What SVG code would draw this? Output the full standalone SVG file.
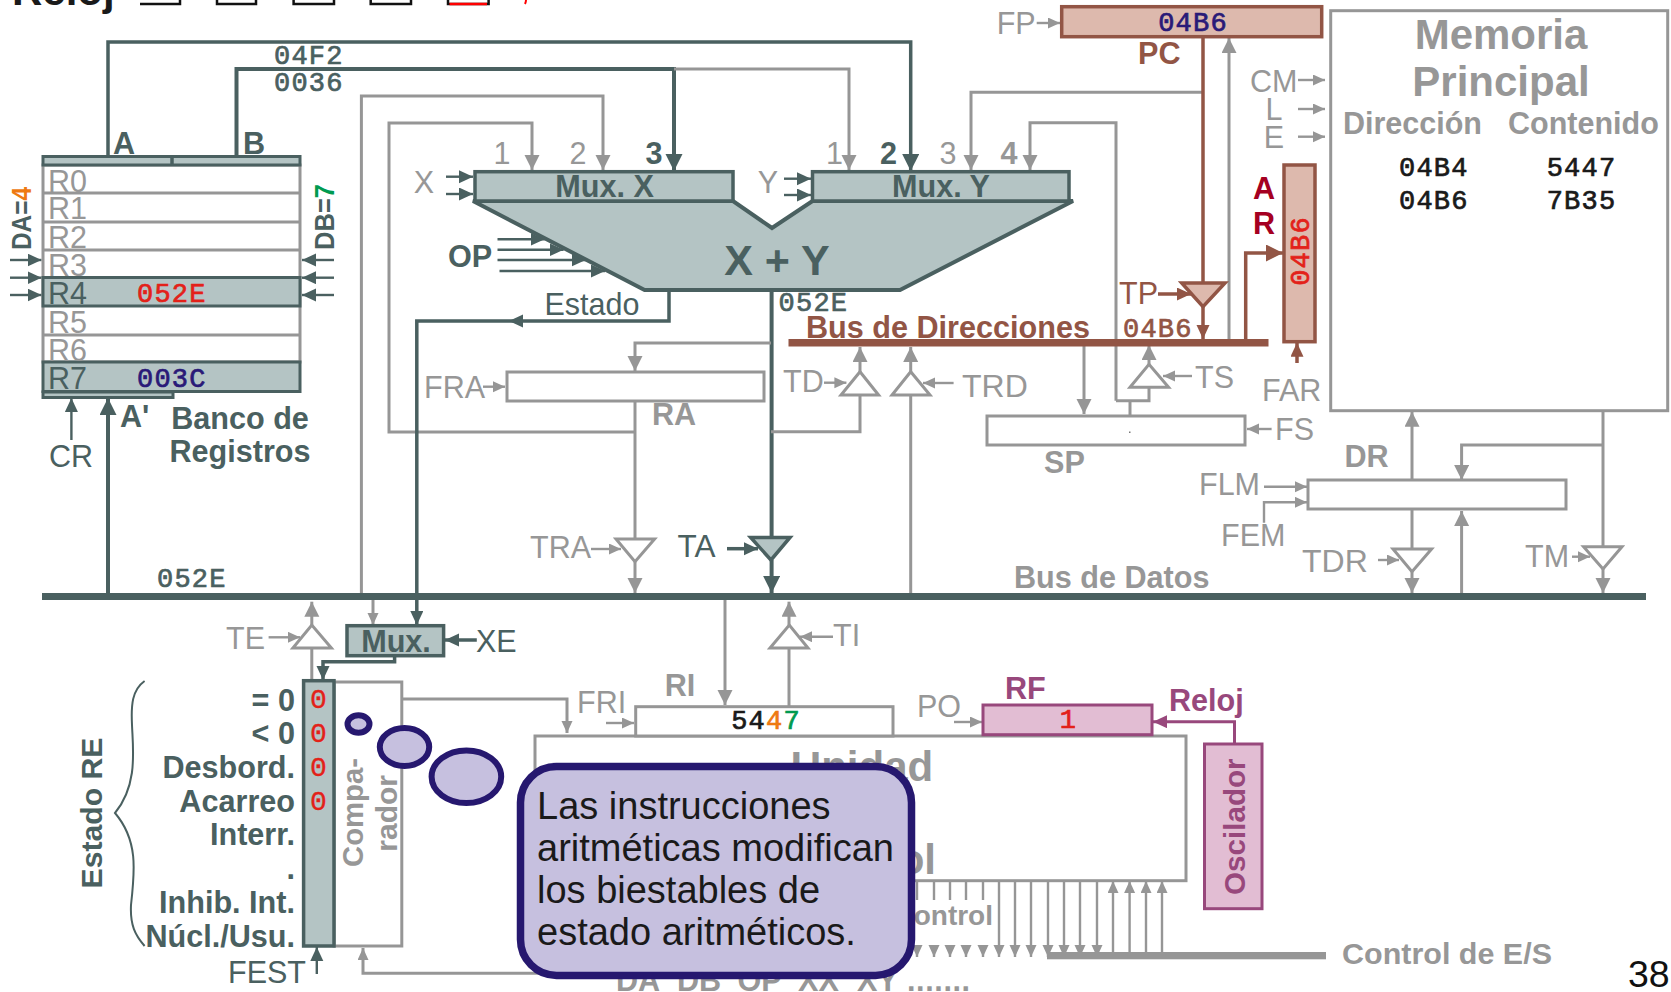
<svg xmlns="http://www.w3.org/2000/svg" width="1671" height="992" viewBox="0 0 1671 992">
<style>
text{font-family:"Liberation Sans",Arial,sans-serif;font-size:30.5px}
.b{font-weight:bold;font-size:30.6px}
.m{font-family:"Liberation Mono","Courier New",monospace;font-weight:normal;font-size:27px;letter-spacing:1.2px;stroke-width:.7px}
.m.d{stroke:#4a6060}.m.r{stroke:#e32119}.m.bl{stroke:#2a1a78}.m.k{stroke:#1a1a1a}.m.br{stroke:#925545}
.g{fill:#979797}.d{fill:#4a6060}.br{fill:#925545}.p{fill:#98487c}.r{fill:#e32119}.bl{fill:#2a1a78}.k{fill:#1a1a1a}
.e{text-anchor:end}.c{text-anchor:middle}
.line,.lined,.lineb,.linep{fill:none}
.line{stroke:#969696;stroke-width:3}
.lined{stroke:#4a6060;stroke-width:3.5}
.lineb{stroke:#925545;stroke-width:3.5}
.linep{stroke:#98487c;stroke-width:3}
.thin{stroke-width:2.4}
.thick{stroke-width:4}
.box{fill:#fff;stroke:#969696;stroke-width:3}
.tbox{fill:#b4c4c4;stroke:#4a6060;stroke-width:3}
.bbox{fill:#ddb9ad;stroke:#925545;stroke-width:3.5}
.pbox{fill:#e2bdd3;stroke:#98487c;stroke-width:3}
.tri{fill:#fff;stroke:#969696;stroke-width:3;stroke-linejoin:miter}
.bub{fill:#c6c0df;stroke:#26186f;stroke-width:6}
</style>
<defs>
<marker id="gL" markerUnits="userSpaceOnUse" markerWidth="16" markerHeight="16" refX="15" refY="7.5" orient="auto"><path d="M0 0L15 7.5L0 15z" fill="#969696"/></marker>
<marker id="gM" markerUnits="userSpaceOnUse" markerWidth="13" markerHeight="12" refX="12" refY="5.5" orient="auto"><path d="M0 0L12 5.5L0 11z" fill="#969696"/></marker>
<marker id="dL" markerUnits="userSpaceOnUse" markerWidth="18" markerHeight="18" refX="17" refY="8.5" orient="auto"><path d="M0 0L17 8.5L0 17z" fill="#4a6060"/></marker>
<marker id="dM" markerUnits="userSpaceOnUse" markerWidth="15" markerHeight="14" refX="14" refY="6.5" orient="auto"><path d="M0 0L14 6.5L0 13z" fill="#4a6060"/></marker>
<marker id="bL" markerUnits="userSpaceOnUse" markerWidth="18" markerHeight="18" refX="17" refY="8.5" orient="auto"><path d="M0 0L17 8.5L0 17z" fill="#925545"/></marker>
<marker id="bM" markerUnits="userSpaceOnUse" markerWidth="15" markerHeight="14" refX="14" refY="6.5" orient="auto"><path d="M0 0L14 6.5L0 13z" fill="#925545"/></marker>
<marker id="pM" markerUnits="userSpaceOnUse" markerWidth="15" markerHeight="14" refX="14" refY="6.5" orient="auto"><path d="M0 0L14 6.5L0 13z" fill="#98487c"/></marker>
</defs>
<rect width="1671" height="992" fill="#fff"/>

<g id="connectors">
<path class="lined" d="M108 157V42H910.7V171" style="marker-end:url(#dL)"/>
<path class="lined thick" d="M236.5 157V69H674V171" style="marker-end:url(#dL)"/>
<path class="line" d="M674 69H849V170" style="marker-end:url(#gL)"/>
<path class="line" d="M361.4 594V96H603V170" style="marker-end:url(#gL)"/>
<path class="line" d="M635 432H389V123H532V170" style="marker-end:url(#gL)"/>
<path class="line" d="M1203 92.3H971V170" style="marker-end:url(#gL)"/>
<path class="line" d="M1116 400.7V122.7H1030V170" style="marker-end:url(#gL)"/>
<path class="line" d="M1149 387V400.7H1116"/>
<path class="line" d="M1130 400.7V416"/>
<path class="lined thin" d="M446 176.7H473" style="marker-end:url(#dM)"/>
<path class="lined thin" d="M446 194H473" style="marker-end:url(#dM)"/>
<path class="lined thin" d="M784 178.7H811" style="marker-end:url(#dM)"/>
<path class="lined thin" d="M784 195H811" style="marker-end:url(#dM)"/>
<path class="lined thin" d="M497.5 239.3H544.6" style="marker-end:url(#dM)"/>
<path class="lined thin" d="M497.5 249.7H563.6" style="marker-end:url(#dM)"/>
<path class="lined thin" d="M497.5 260H585.7" style="marker-end:url(#dM)"/>
<path class="lined thin" d="M499.5 271H605" style="marker-end:url(#dM)"/>
<path class="lined thin" d="M10 260H41.5" style="marker-end:url(#dM)"/>
<path class="lined thin" d="M10 277.7H41.5" style="marker-end:url(#dM)"/>
<path class="lined thin" d="M10 295H41.5" style="marker-end:url(#dM)"/>
<path class="lined thin" d="M334 260H302" style="marker-end:url(#dM)"/>
<path class="lined thin" d="M334 277.7H302" style="marker-end:url(#dM)"/>
<path class="lined thin" d="M334 295H302" style="marker-end:url(#dM)"/>
<path class="lined thin" d="M71.4 440V398" style="marker-end:url(#dM)"/>
<path class="lined thick" d="M108 594V398" style="marker-end:url(#dL)"/>
<path class="lined" d="M669 290V321H509" style="marker-end:url(#dM)"/>
<path class="lined" d="M509 321H416.8V625" style="marker-end:url(#dM)"/>
<path class="lined thick" d="M771.6 290V538"/>
<path class="line" d="M771 343H635V371" style="marker-end:url(#gL)"/>
<path class="line" d="M771 431.7H860V395"/>
<path class="line" d="M860 372V347" style="marker-end:url(#gL)"/>
<path class="line" d="M910.7 594V395"/>
<path class="line" d="M910.7 372V347" style="marker-end:url(#gL)"/>
<path class="line thin" d="M953.6 383H923" style="marker-end:url(#gM)"/>
<path class="line thin" d="M824 382.7H846.4" style="marker-end:url(#gM)"/>
<path class="line thin" d="M483 386.7H505" style="marker-end:url(#gM)"/>
<path class="line" d="M635 401V539"/>
<path class="line" d="M635 562V593" style="marker-end:url(#gL)"/>
<path class="line thin" d="M591 549H621" style="marker-end:url(#gM)"/>
<path class="lined" d="M727 548.7H758" style="marker-end:url(#dM)"/>
<path class="lined thick" d="M771.6 560V593" style="marker-end:url(#dL)"/>
<path class="line" d="M311.8 680V648"/>
<path class="line" d="M311.8 625V601.7" style="marker-end:url(#gL)"/>
<path class="line thin" d="M268.6 637.3H300" style="marker-end:url(#gM)"/>
<path class="line" d="M373 600V625" style="marker-end:url(#gM)"/>
<path class="lined" d="M476.8 640H445" style="marker-end:url(#dM)"/>
<path class="lined" d="M394.6 656V661.7H323V680" style="marker-end:url(#dM)"/>
<path class="lined thin" d="M316.8 974V947" style="marker-end:url(#dM)"/>
<path class="line" d="M401.8 699H567V733" style="marker-end:url(#gM)"/>
<path class="line" d="M560 973.3H363V948" style="marker-end:url(#gM)"/>
<path class="line" d="M725 600V705" style="marker-end:url(#gL)"/>
<path class="line" d="M789 706V648"/>
<path class="line" d="M789 625V601.7" style="marker-end:url(#gL)"/>
<path class="line thin" d="M833 636.7H800" style="marker-end:url(#gM)"/>
<path class="line thin" d="M606 723H634" style="marker-end:url(#gM)"/>
<path class="line thin" d="M954 722H982" style="marker-end:url(#gM)"/>
<path class="linep" d="M1234.5 744V721.7H1153" style="marker-end:url(#pM)"/>
<path class="lineb" d="M1203 37V284"/>
<path class="lineb" d="M1203 306V339" style="marker-end:url(#bM)"/>
<path class="lineb" d="M1158 294H1191" style="marker-end:url(#bM)"/>
<path class="line" d="M1229 342V38" style="marker-end:url(#gL)"/>
<path class="lineb" d="M1245.7 342V253H1283" style="marker-end:url(#bL)"/>
<path class="lineb" d="M1297 363V342.7" style="marker-end:url(#bM)"/>
<path class="line thin" d="M1036.7 23H1060" style="marker-end:url(#gM)"/>
<path class="line thin" d="M1298 80H1325" style="marker-end:url(#gM)"/>
<path class="line thin" d="M1298 109H1325" style="marker-end:url(#gM)"/>
<path class="line thin" d="M1298 136.7H1325" style="marker-end:url(#gM)"/>
<path class="line" d="M1084 346V414" style="marker-end:url(#gL)"/>
<path class="line" d="M1149 365V345" style="marker-end:url(#gL)"/>
<path class="line thin" d="M1192 376H1163" style="marker-end:url(#gM)"/>
<path class="line thin" d="M1271.6 429H1247" style="marker-end:url(#gM)"/>
<path class="line" d="M1412 480V411.7" style="marker-end:url(#gL)"/>
<path class="line" d="M1412 509V549"/>
<path class="line" d="M1412 571V593" style="marker-end:url(#gL)"/>
<path class="line" d="M1603 411V547"/>
<path class="line" d="M1603 569V593" style="marker-end:url(#gL)"/>
<path class="line" d="M1603 445H1461.6V480" style="marker-end:url(#gL)"/>
<path class="line" d="M1461.6 594V511" style="marker-end:url(#gL)"/>
<path class="line thin" d="M1264 486.7H1307" style="marker-end:url(#gM)"/>
<path class="line thin" d="M1264 522.7V502.3H1307" style="marker-end:url(#gM)"/>
<path class="line thin" d="M1378 560H1399" style="marker-end:url(#gM)"/>
<path class="line thin" d="M1572 556.7H1590" style="marker-end:url(#gM)"/>
<path class="line thin" d="M917 881V900"/><path class="line thin" d="M934 881V900"/><path class="line thin" d="M950 881V900"/><path class="line thin" d="M966 881V900"/><path class="line thin" d="M983 881V900"/>
<path class="line thin" d="M917 945V957" style="marker-end:url(#gM)"/><path class="line thin" d="M934 945V957" style="marker-end:url(#gM)"/><path class="line thin" d="M950 945V957" style="marker-end:url(#gM)"/><path class="line thin" d="M966 945V957" style="marker-end:url(#gM)"/><path class="line thin" d="M983 945V957" style="marker-end:url(#gM)"/>
<path class="line thin" d="M999 881V957" style="marker-end:url(#gM)"/><path class="line thin" d="M1015 881V957" style="marker-end:url(#gM)"/><path class="line thin" d="M1031 881V957" style="marker-end:url(#gM)"/><path class="line thin" d="M1048 881V957" style="marker-end:url(#gM)"/><path class="line thin" d="M1064 881V957" style="marker-end:url(#gM)"/><path class="line thin" d="M1080 881V957" style="marker-end:url(#gM)"/><path class="line thin" d="M1097 881V957" style="marker-end:url(#gM)"/>
<path class="line thin" d="M1113 952V881" style="marker-end:url(#gM)"/><path class="line thin" d="M1129.6 952V881" style="marker-end:url(#gM)"/><path class="line thin" d="M1146 952V881" style="marker-end:url(#gM)"/><path class="line thin" d="M1162 952V881" style="marker-end:url(#gM)"/>
</g>

<g id="reloj-top">
<text class="b" x="12" y="5" style="font-size:42px;fill:#1a1a1a">Reloj</text>
<path d="M140 4H180V0M217 0V4H256V0M293.6 0V4H334V0M370.7 0V4H411V0M448 0V4H488.6V0" fill="none" stroke="#111" stroke-width="2.5"/>
<path d="M449.5 4H487" fill="none" stroke="#f00" stroke-width="2.5"/>
<path d="M526 0C526 2 525.5 3 525 4" fill="none" stroke="#f00" stroke-width="2"/>
</g>

<g id="banco-registros">
<rect class="box" x="43" y="165" width="257" height="197"/>
<path class="line" d="M43 193H300M43 222H300M43 250H300M43 335H300"/>
<rect class="tbox" x="43" y="156.5" width="257" height="8.5"/>
<path class="lined" d="M172 156V165"/>
<rect class="tbox" x="43" y="277.5" width="257" height="28.5"/>
<rect class="tbox" x="43" y="362" width="257" height="29.5"/>
<rect class="tbox" x="43" y="392" width="130" height="5.5"/>
<text class="g" x="48" y="191.7">R0</text><text class="g" x="48" y="219.3">R1</text><text class="g" x="48" y="248">R2</text><text class="g" x="48" y="276">R3</text>
<text class="d" x="48" y="303.7">R4</text><text class="g" x="48" y="332.7">R5</text><text class="g" x="48" y="361">R6</text><text class="d" x="48" y="389.3">R7</text>
<text class="m r" x="137" y="301.7">052E</text><text class="m bl" x="137" y="386.7">003C</text>
<text class="b d" x="113" y="153.7">A</text><text class="b d" x="243" y="153.7">B</text>
<text class="b d" x="120" y="427">A'</text>
<text class="b d c" x="240" y="428.7">Banco de</text>
<text class="b d c" x="240" y="462">Registros</text>
<text class="d c" x="71" y="467">CR</text>
<text class="b d" transform="translate(31 250) rotate(-90)" textLength="63" lengthAdjust="spacingAndGlyphs" style="font-size:27px">DA=<tspan fill="#ee7a12">4</tspan></text>
<text class="b d" transform="translate(334 250) rotate(-90)" textLength="66" lengthAdjust="spacingAndGlyphs" style="font-size:27px">DB=<tspan fill="#009a50">7</tspan></text>
<text class="m d" x="274" y="64">04F2</text><text class="m d" x="274" y="90.7">0036</text>
</g>

<g id="alu">
<polygon class="tbox" style="stroke-width:4" points="473,201 644.6,290 900,290 1073,201 812.5,201 772,228 733,201"/>
<rect class="tbox" style="stroke-width:3.5" x="475" y="171.7" width="258" height="29.3"/>
<rect class="tbox" style="stroke-width:3.5" x="812.5" y="171.7" width="256.5" height="29.3"/>
<text class="b d c" x="604.6" y="197.2">Mux. X</text>
<text class="b d c" x="941" y="197.2">Mux. Y</text>
<text class="b d c" x="777" y="275" style="font-size:43px">X + Y</text>
<text class="b d" x="448" y="266.7">OP</text>
<text class="d c" x="592" y="315">Estado</text>
<text class="m d" x="778.6" y="310.7">052E</text>
<text class="g c" x="424" y="193">X</text><text class="g c" x="768" y="193">Y</text>
<text class="g c" x="502" y="164">1</text><text class="g c" x="578" y="164">2</text><text class="b d c" x="654" y="164">3</text>
<text class="g c" x="834.6" y="164">1</text><text class="b d c" x="888.6" y="164">2</text><text class="g c" x="948" y="164">3</text><text class="b g c" x="1009" y="164">4</text>
</g>

<g id="ra">
<rect class="box" x="507" y="372" width="257" height="29"/>
<text class="g" x="424" y="397.7">FRA</text><text class="b g c" x="674" y="425">RA</text>
</g>
<g id="tra"><polygon class="tri" points="616,539 654.6,539 635,561.7"/><text class="g" x="530" y="558">TRA</text></g>
<g id="ta"><polygon class="tbox" style="stroke-width:3.5" points="750.7,537.5 790,537.5 771,560"/><text class="d" x="677.5" y="557" style="font-size:31.5px">TA</text></g>
<g id="td"><polygon class="tri" points="841,395 878.6,395 860,371.7"/><text class="g" x="783" y="392">TD</text></g>
<g id="trd"><polygon class="tri" points="892,395 930,395 910.7,371.7"/><text class="g" x="962" y="397" style="font-size:32px">TRD</text></g>

<g id="pc">
<rect class="bbox" x="1061.7" y="6.7" width="260" height="30"/>
<text class="m bl c" x="1193" y="30.7">04B6</text>
<text class="g" x="996.7" y="34">FP</text>
<text class="b br" x="1138" y="63.7">PC</text>
</g>
<g id="tp"><polygon class="bbox" points="1181.7,283 1225,283 1203,306.7"/><text class="br" x="1119" y="304.3">TP</text></g>
<g id="bus-direcciones">
<rect x="788.5" y="339" width="480" height="7.5" fill="#925545"/>
<text class="b br" x="806" y="338">Bus de Direcciones</text>
<text class="m br" x="1123" y="337">04B6</text>
</g>
<g id="ar">
<rect class="bbox" x="1284" y="165" width="31" height="176.7"/>
<text class="m r c" transform="translate(1309 251) rotate(-90)">04B6</text>
<text class="b c" x="1264" y="199" fill="#a50021">A</text><text class="b c" x="1264" y="234" fill="#a50021">R</text>
<text class="g" x="1262" y="401">FAR</text>
</g>

<g id="memoria">
<rect class="box" x="1330.7" y="10.7" width="337" height="400"/>
<text class="b g c" x="1501" y="49" style="font-size:42px">Memoria</text>
<text class="b g c" x="1501" y="96" style="font-size:42px">Principal</text>
<text class="b g" x="1343" y="134" style="font-size:30.5px">Dirección</text>
<text class="b g" x="1508" y="134" style="font-size:30.5px">Contenido</text>
<text class="m k" x="1399" y="176">04B4</text><text class="m k" x="1546.7" y="176">5447</text>
<text class="m k" x="1399" y="209.3">04B6</text><text class="m k" x="1546.7" y="209.3">7B35</text>
<text class="g" x="1250" y="91.7">CM</text><text class="g c" x="1274" y="120">L</text><text class="g c" x="1274" y="147.7">E</text>
</g>

<g id="sp">
<rect class="box" x="987" y="416" width="258" height="29"/>
<rect x="1129" y="431.5" width="1.5" height="1.5" fill="#777"/>
<text class="b g" x="1044" y="473">SP</text><text class="g" x="1275" y="440">FS</text>
</g>
<g id="ts"><polygon class="tri" points="1130,387.3 1168.6,387.3 1149,364.3"/><text class="g" x="1195" y="388">TS</text></g>

<g id="dr">
<rect class="box" x="1308" y="480" width="258" height="29"/>
<text class="b g" x="1344.5" y="467">DR</text>
<text class="g" x="1199" y="495">FLM</text><text class="g" x="1221" y="546">FEM</text>
</g>
<g id="tdr"><polygon class="tri" points="1393,549 1431.6,549 1412,571.7"/><text class="g" x="1302" y="572" style="font-size:32px">TDR</text></g>
<g id="tm"><polygon class="tri" points="1583.6,546.7 1622,546.7 1603,569"/><text class="g" x="1525" y="567">TM</text></g>

<g id="bus-datos">
<rect x="42" y="593" width="1604" height="7" fill="#4a6060"/>
<text class="m d" x="157" y="586.7">052E</text>
<text class="b g" x="1014" y="587.7">Bus de Datos</text>
</g>

<g id="mux-e">
<rect class="tbox" style="stroke-width:3.5" x="347" y="625.7" width="96.6" height="30"/>
<text class="b d c" x="396" y="651.7">Mux.</text>
<text class="d" x="476" y="651.7">XE</text>
</g>
<g id="te"><polygon class="tri" points="292.9,648 331.4,648 311.8,625"/><text class="g" x="226" y="649">TE</text></g>
<g id="ti"><polygon class="tri" points="770,648 808,648 789.3,625"/><text class="g" x="833" y="646">TI</text></g>

<g id="estado-re">
<rect class="box" x="334" y="682" width="67.8" height="264"/>
<rect class="tbox" style="stroke-width:3.5" x="303.6" y="680.7" width="30.4" height="265.3"/>
<text class="m r c" x="319" y="708" style="stroke-width:.35px;font-size:28px">0</text><text class="m r c" x="319" y="742" style="stroke-width:.35px;font-size:28px">0</text><text class="m r c" x="319" y="776" style="stroke-width:.35px;font-size:28px">0</text><text class="m r c" x="319" y="809.5" style="stroke-width:.35px;font-size:28px">0</text>
<text class="b d e" x="295" y="711">= 0</text>
<text class="b d e" x="295" y="744">&lt; 0</text>
<text class="b d e" x="295" y="777.7">Desbord.</text>
<text class="b d e" x="295" y="811.7">Acarreo</text>
<text class="b d e" x="295" y="845">Interr.</text>
<text class="b d e" x="295" y="879">.</text>
<text class="b d e" x="295" y="913">Inhib. Int.</text>
<text class="b d e" x="295" y="946.7">Núcl./Usu.</text>
<text class="b d c" transform="translate(101.8 813) rotate(-90)" style="font-size:30.2px">Estado RE</text>
<path d="M144.6 681C132 690 131 705 132 725C133 750 138 785 115 813C138 840 135 870 131 905C130 925 135 935 144.6 946" fill="none" stroke="#4a6060" stroke-width="2"/>
<text class="b g" transform="translate(362.5 867) rotate(-90)" style="font-size:29.3px">Compa-</text>
<text class="b g" transform="translate(397 851.7) rotate(-90)" style="font-size:30px">rador</text>
<text class="d" x="228" y="982.7">FEST</text>
</g>

<g id="unidad-control">
<rect class="box" x="535" y="736" width="651" height="144.7"/>
<text class="b g c" x="862" y="781" style="font-size:42px">Unidad</text>
<text class="b g e" x="936" y="874" style="font-size:42px">Control</text>
<text class="b g e" x="993" y="925" style="font-size:28px">control</text>
<text class="b g" y="991"><tspan x="616">DA</tspan><tspan x="677">DB</tspan><tspan x="737.5">OP</tspan><tspan x="798">XX</tspan><tspan x="857">XY</tspan><tspan x="907" letter-spacing=".6">.......</tspan></text>
</g>
<g id="ri">
<rect class="box" x="635.7" y="706.7" width="257.3" height="29.3"/>
<text class="m c k" x="766" y="729">54<tspan fill="#ee7a12" stroke="#ee7a12">4</tspan><tspan fill="#009a50" stroke="#009a50">7</tspan></text>
<text class="b g c" x="680" y="696">RI</text>
<text class="g" x="577" y="712.7">FRI</text>
</g>
<g id="rf">
<rect class="pbox" x="983" y="705" width="169" height="29.7"/>
<text class="m r c" x="1068.5" y="728">1</text>
<text class="b p" x="1005" y="699">RF</text>
<text class="g" x="917" y="717">PO</text>
<text class="b p" x="1169" y="711">Reloj</text>
</g>
<g id="oscilador">
<rect class="pbox" x="1204.5" y="744" width="57.5" height="164.7"/>
<text class="b p c" transform="translate(1244.8 826.7) rotate(-90)" style="font-size:29.6px">Oscilador</text>
</g>
<g id="control-es">
<rect x="1047" y="952" width="279" height="7.3" fill="#969696"/>
<text class="b g" x="1342" y="963.7" textLength="210" lengthAdjust="spacingAndGlyphs" style="font-size:29px">Control de E/S</text>
</g>
<g id="pagina"><text x="1628" y="987" style="font-size:37.5px;fill:#111">38</text></g>

<g id="callout">
<ellipse class="bub" cx="358.5" cy="724" rx="11" ry="8.7"/>
<ellipse class="bub" cx="404.5" cy="747" rx="24.7" ry="19"/>
<ellipse class="bub" cx="466.4" cy="776.7" rx="34.8" ry="26.3"/>
<rect x="520.5" y="766.5" width="391" height="209" rx="36" fill="#c6c0df" stroke="#26186f" stroke-width="7.5"/>
<text class="k" x="537" y="819" style="font-size:38px">Las instrucciones</text>
<text class="k" x="537" y="861" style="font-size:38px">aritméticas modifican</text>
<text class="k" x="537" y="903" style="font-size:38px">los biestables de</text>
<text class="k" x="537" y="945" style="font-size:38px">estado aritméticos.</text>
</g>
</svg>
